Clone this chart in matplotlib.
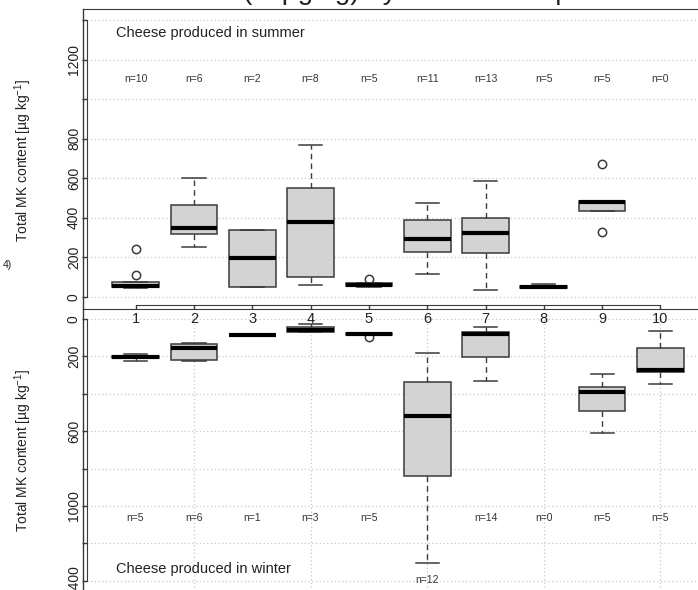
import matplotlib
matplotlib.use('Agg')
import matplotlib.pyplot as plt
import numpy as np

plt.rcParams['font.family'] = ['Liberation Sans', 'DejaVu Sans']
plt.rcParams['mathtext.fontset'] = 'custom'
plt.rcParams['mathtext.rm'] = 'Liberation Sans'
plt.rcParams['mathtext.it'] = 'Liberation Sans:italic'

# ---------------- data ----------------
groups = [1, 2, 3, 4, 5, 6, 7, 8, 9, 10]
tick_labels = ['1', '2', '3', '4', '5', '6', '7', '8', '9', '10']

summer_n = [10, 6, 2, 8, 5, 11, 13, 5, 5, 0]
summer_lo = [44, 254, 49, 61, 52, 116, 34, 45, 435, None]
summer_q1 = [50, 320, 49, 103, 57, 229, 224, 47, 435, None]
summer_med = [55, 347, 197, 379, 61, 292, 325, 52, 478, None]
summer_q3 = [75, 463, 340, 549, 72, 389, 401, 57, 483, None]
summer_hi = [75, 601, 340, 768, 72, 474, 588, 67, 483, None]
summer_fliers = [[113, 241], [], [], [], [92], [], [], [], [330, 672], []]

winter_n = [5, 6, 1, 3, 5, 12, 14, 0, 5, 5]
winter_lo = [188, 130, 86, 25, 77, 180, 41, None, 296, 64]
winter_q1 = [196, 135, 86, 41, 77, 339, 71, None, 362, 153]
winter_med = [201, 157, 86, 59, 80, 517, 82, None, 389, 273]
winter_q3 = [206, 219, 86, 68, 83, 838, 202, None, 490, 282]
winter_hi = [223, 223, 86, 68, 83, 1305, 332, None, 608, 348]
winter_fliers = [[], [], [], [], [97], [], [], [], [], []]

y_ticks = [0, 200, 400, 600, 800, 1000, 1200, 1400]
top_ylabels = ['0', '200', '400', '600', '800', '', '1200', '']
bot_ylabels = ['0', '200', '', '600', '', '1000', '', '1400']

ylabel_text = 'Total MK content [µg kg$^{-1}$]'
summer_title = 'Cheese produced in summer'
winter_title = 'Cheese produced in winter'
top_title = '(in µg/kg) by season and production'

# ---------------- layout ----------------
W, H = 698, 590
fig = plt.figure(figsize=(W / 100, H / 100), dpi=100)


def fx(px):
    return px / W


def fy(py):
    return 1 - py / H


X0, X1 = 83, 713
ax_top = fig.add_axes([fx(X0), fy(309), (X1 - X0) / W, 300 / H])
ax_bot = fig.add_axes([fx(X0), fy(600), (X1 - X0) / W, 291 / H])
ax_top.set_zorder(3)
ax_bot.set_zorder(1)

EDGE = '#3a3a3a'
GRID = '#c8c8c8'


def build(n, lo, q1, med, q3, hi, fl):
    stats, pos = [], []
    for i, g in enumerate(groups):
        if n[i] == 0 or med[i] is None:
            continue
        stats.append(dict(whislo=lo[i], q1=q1[i], med=med[i], q3=q3[i],
                          whishi=hi[i], fliers=fl[i]))
        pos.append(g)
    return stats, pos


def draw_boxes(ax, stats, pos):
    ax.bxp(stats, positions=pos, widths=0.8, capwidths=0.4, patch_artist=True,
           boxprops=dict(facecolor='#d3d3d3', edgecolor=EDGE, linewidth=1.1),
           medianprops=dict(color='black', linewidth=3.0, solid_capstyle='butt'),
           whiskerprops=dict(color=EDGE, linewidth=1.0, linestyle=(0, (4, 3))),
           capprops=dict(color=EDGE, linewidth=1.1),
           flierprops=dict(marker='o', markerfacecolor='none', markeredgecolor=EDGE,
                           markersize=6, markeredgewidth=1.1),
           manage_ticks=False, zorder=3)


def common(ax):
    ax.set_xlim(0.1, 10.9)
    ax.set_yticks(y_ticks)
    ax.set_xticks([2, 4, 6, 8, 10], minor=True)
    ax.grid(True, which='major', axis='y', color=GRID, linestyle=(0, (1, 2)), linewidth=0.9)
    ax.grid(True, which='minor', axis='x', color=GRID, linestyle=(0, (1, 2)), linewidth=0.9)
    ax.set_axisbelow(True)
    ax.tick_params(axis='x', which='minor', length=0)
    ax.tick_params(axis='y', which='major', direction='out', length=3.6, width=1.0,
                   pad=0.8, labelsize=10, color=EDGE, labelcolor='#222222')
    ax.spines['right'].set_visible(False)
    ax.spines['left'].set_position(('outward', -2.9))
    ax.spines['left'].set_bounds(0, 1400)
    ax.spines['left'].set_color(EDGE)
    ax.axvline(0.1, color=EDGE, linewidth=1.0, clip_on=False, zorder=5)
    for lab in ax.get_yticklabels():
        lab.set_rotation(90)
        lab.set_va('center')


# ---- top panel (summer) ----
s_stats, s_pos = build(summer_n, summer_lo, summer_q1, summer_med, summer_q3,
                       summer_hi, summer_fliers)
draw_boxes(ax_top, s_stats, s_pos)
ax_top.set_ylim(-60.65, 1455.6)
ax_top.set_xticks(groups)
ax_top.set_xticklabels(tick_labels)
ax_top.set_yticklabels(top_ylabels)
common(ax_top)
ax_top.patch.set_alpha(0)
ax_top.spines['top'].set_color(EDGE)
ax_top.spines['bottom'].set_position(('data', -40.4))
ax_top.spines['bottom'].set_bounds(1, 10)
ax_top.spines['bottom'].set_color(EDGE)
ax_top.tick_params(axis='x', which='major', direction='out', length=2.9, width=1.0,
                   pad=2.0, labelsize=10.5, color=EDGE, labelcolor='#222222')
for g, n in zip(groups, summer_n):
    ax_top.text(g, 1100, f'n={n}', ha='center', va='center', fontsize=7.5, color='#333333')

# ---- bottom panel (winter) ----
w_stats, w_pos = build(winter_n, winter_lo, winter_q1, winter_med, winter_q3,
                       winter_hi, winter_fliers)
draw_boxes(ax_bot, w_stats, w_pos)
ax_bot.set_ylim(1502.7, -53.5)
ax_bot.set_xticks([])
ax_bot.set_yticklabels(bot_ylabels)
common(ax_bot)
ax_bot.spines['top'].set_color(EDGE)
ax_bot.spines['bottom'].set_visible(False)
winter_label_y = [1065, 1065, 1065, 1065, 1065, 1398, 1065, 1065, 1065, 1065]
for g, n, yv in zip(groups, winter_n, winter_label_y):
    ax_bot.text(g, yv, f'n={n}', ha='center', va='center', fontsize=7.5, color='#333333')

# ---- texts ----
fig.text(fx(116), fy(33), summer_title, ha='left', va='center', fontsize=10.5, color='#222222')
fig.text(fx(116), fy(569), winter_title, ha='left', va='center', fontsize=10.5, color='#222222')
fig.text(fx(23), fy(160), ylabel_text, rotation=90, ha='center', va='center',
         fontsize=10, color='#222222')
fig.text(fx(23), fy(450), ylabel_text, rotation=90, ha='center', va='center',
         fontsize=10, color='#222222')
fig.text(fx(3), fy(265), '4)', ha='left', va='center', fontsize=7.5, color='#222222')
fig.text(fx(243), 1.0 + 1.0 / H, top_title, ha='left', va='baseline', fontsize=20, color='#222222')

fig.savefig('out.png', dpi=100)
